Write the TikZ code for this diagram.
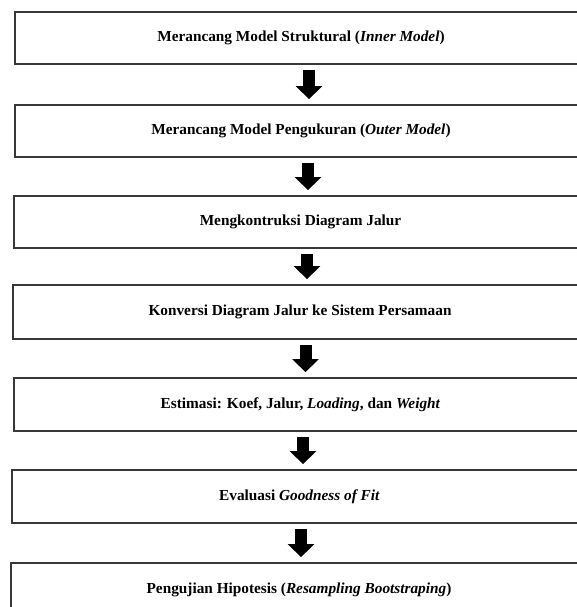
\documentclass[tikz,border=0pt]{standalone}
\usepackage{fontspec}
\setmainfont{Liberation Serif}
\usetikzlibrary{arrows.meta}
\begin{document}
\begin{tikzpicture}[x=1pt,y=-1pt,
  stepbox/.style={draw=black!78, line width=1.8pt, fill=white, inner sep=0pt,
    font=\fontsize{15.3}{18}\selectfont\bfseries, text=black},
  bigarrow/.style={line width=12pt, black, shorten <=5pt, shorten >=5pt,
    -{Triangle[width=26pt,length=13pt]}}]
\useasboundingbox (0,0) rectangle (577,607);
\clip (0,0) rectangle (577,607);
\node[stepbox, minimum width=572pt, minimum height=52.6pt] (b1) at (301,38)
  {Merancang Model Struktural (\textit{Inner Model})};
\node[stepbox, minimum width=572pt, minimum height=52pt] (b2) at (301,131)
  {Merancang Model Pengukuran (\textit{Outer Model})};
\node[stepbox, minimum width=573pt, minimum height=52pt] (b3) at (300.5,222)
  {Mengkontruksi Diagram Jalur};
\node[stepbox, minimum width=574pt, minimum height=54pt] (b4) at (300,312)
  {Konversi Diagram Jalur ke Sistem Persamaan};
\node[stepbox, minimum width=573pt, minimum height=53pt] (b5) at (300.5,404.5)
  {Estimasi: Koef, Jalur, \textit{Loading}, dan \textit{Weight}};
\node[stepbox, minimum width=575pt, minimum height=53pt] (b6) at (299.5,496.5)
  {Evaluasi \textit{Goodness of Fit}};
\node[stepbox, minimum width=576pt, minimum height=53pt] (b7) at (299,589.5)
  {Pengujian Hipotesis (\textit{Resampling Bootstraping})};
\coordinate (a1) at (309,0);
\coordinate (a2) at (308,0);
\coordinate (a3) at (307,0);
\coordinate (a4) at (305.5,0);
\coordinate (a5) at (303,0);
\coordinate (a6) at (301,0);
\draw[bigarrow] (b1.south -| a1) -- (b2.north -| a1);
\draw[bigarrow] (b2.south -| a2) -- (b3.north -| a2);
\draw[bigarrow] (b3.south -| a3) -- (b4.north -| a3);
\draw[bigarrow] (b4.south -| a4) -- (b5.north -| a4);
\draw[bigarrow] (b5.south -| a5) -- (b6.north -| a5);
\draw[bigarrow] (b6.south -| a6) -- (b7.north -| a6);
\end{tikzpicture}
\end{document}
